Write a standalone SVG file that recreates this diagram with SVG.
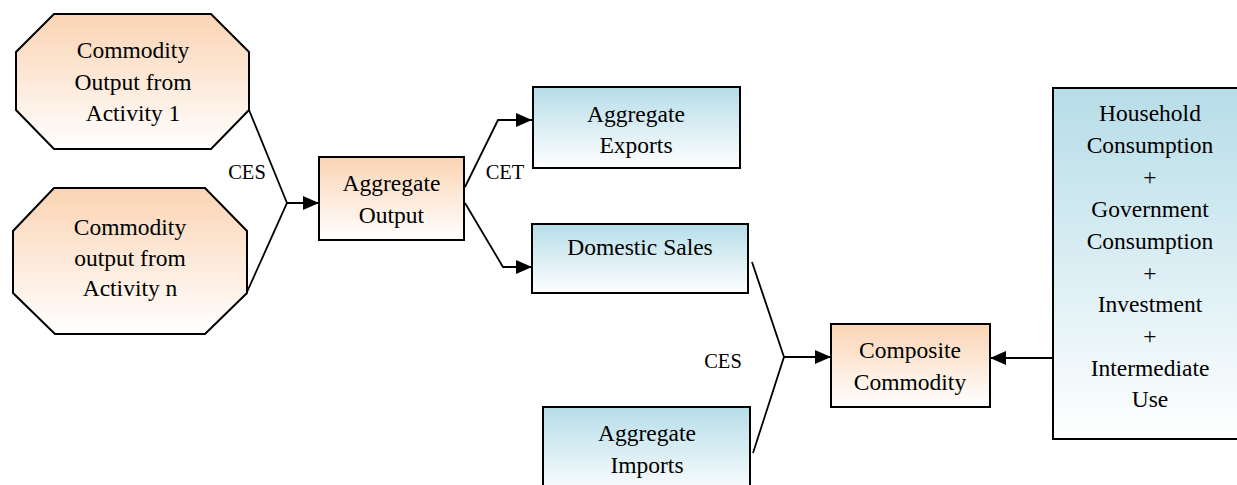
<svg xmlns="http://www.w3.org/2000/svg" width="1237" height="485" viewBox="0 0 1237 485">
  <defs>
    <linearGradient id="gOrange" x1="0" y1="0" x2="0" y2="1">
      <stop offset="0" stop-color="#FBD4B4"/>
      <stop offset="1" stop-color="#FFFFFF"/>
    </linearGradient>
    <linearGradient id="gBlue" x1="0" y1="0" x2="0" y2="1">
      <stop offset="0" stop-color="#B6DDE8"/>
      <stop offset="1" stop-color="#FFFFFF"/>
    </linearGradient>
    <marker id="arrow" viewBox="0 0 16 14" refX="16" refY="7" markerWidth="16" markerHeight="14" markerUnits="userSpaceOnUse" orient="auto">
      <path d="M0,0 L16,7 L0,14 Z" fill="#000"/>
    </marker>
    <style>
      .orange { fill: url(#gOrange); stroke: #000; stroke-width: 2; }
      .blue { fill: url(#gBlue); stroke: #000; stroke-width: 2; }
      .label { font-family: "Liberation Serif", "Times New Roman", serif; font-size: 23.5px; fill: #000; text-anchor: middle; }
      .small { font-family: "Liberation Serif", "Times New Roman", serif; font-size: 20.5px; fill: #000; text-anchor: middle; }
      .conn { fill: none; stroke: #000; stroke-width: 1.8; }
    </style>
  </defs>

  <rect width="1237" height="485" fill="#FFFFFF"/>

  <!-- connectors -->
  <g id="connectors">
    <!-- CES: activity outputs into aggregate output -->
    <polyline class="conn" points="249,110 287,203"/>
    <polyline class="conn" points="247,292 287,203 319,203" marker-end="url(#arrow)"/>
    <!-- CET: aggregate output to exports and domestic sales -->
    <polyline class="conn" points="465,187 498,120 532,120" marker-end="url(#arrow)"/>
    <polyline class="conn" points="465,203 503,267 532,267" marker-end="url(#arrow)"/>
    <!-- CES: domestic sales and imports into composite commodity -->
    <polyline class="conn" points="752,262 784,357"/>
    <polyline class="conn" points="753,453 784,357 831,357" marker-end="url(#arrow)"/>
    <!-- final demand to composite commodity -->
    <polyline class="conn" points="1053,358 990,358" marker-end="url(#arrow)"/>
    <text class="small" x="247" y="179">CES</text>
    <text class="small" x="505" y="179">CET</text>
    <text class="small" x="723" y="368">CES</text>
  </g>

  <g id="activity1">
    <polygon class="orange" points="54,14 211,14 249,52 249,110 211,149 54,149 16,110 16,52"/>
    <text class="label" x="133" y="58">Commodity</text>
    <text class="label" x="133" y="90">Output from</text>
    <text class="label" x="133" y="121">Activity 1</text>
  </g>

  <g id="activityN">
    <polygon class="orange" points="54,188 205,188 247,231 247,293 205,334 55,334 13,293 13,231"/>
    <text class="label" x="130" y="235">Commodity</text>
    <text class="label" x="130" y="266">output from</text>
    <text class="label" x="130" y="296">Activity n</text>
  </g>

  <g id="aggregateOutput">
    <rect class="orange" x="319" y="157" width="145" height="83"/>
    <text class="label" x="391.5" y="191">Aggregate</text>
    <text class="label" x="391.5" y="223">Output</text>
  </g>

  <g id="aggregateExports">
    <rect class="blue" x="533" y="87" width="207" height="81"/>
    <text class="label" x="636" y="122">Aggregate</text>
    <text class="label" x="636" y="153">Exports</text>
  </g>

  <g id="domesticSales">
    <rect class="blue" x="532" y="224" width="216" height="69"/>
    <text class="label" x="640" y="255">Domestic Sales</text>
  </g>

  <g id="aggregateImports">
    <rect class="blue" x="543" y="407" width="207" height="90"/>
    <text class="label" x="647" y="441">Aggregate</text>
    <text class="label" x="647" y="473">Imports</text>
  </g>

  <g id="compositeCommodity">
    <rect class="orange" x="831" y="324" width="159" height="83"/>
    <text class="label" x="910" y="358">Composite</text>
    <text class="label" x="910" y="390">Commodity</text>
  </g>

  <g id="finalDemand">
    <rect class="blue" x="1053" y="88" width="200" height="351"/>
    <text class="label" x="1150" y="121">Household</text>
    <text class="label" x="1150" y="153">Consumption</text>
    <text class="label" x="1150" y="185">+</text>
    <text class="label" x="1150" y="217">Government</text>
    <text class="label" x="1150" y="249">Consumption</text>
    <text class="label" x="1150" y="281">+</text>
    <text class="label" x="1150" y="312">Investment</text>
    <text class="label" x="1150" y="344">+</text>
    <text class="label" x="1150" y="376">Intermediate</text>
    <text class="label" x="1150" y="407">Use</text>
  </g>
</svg>
